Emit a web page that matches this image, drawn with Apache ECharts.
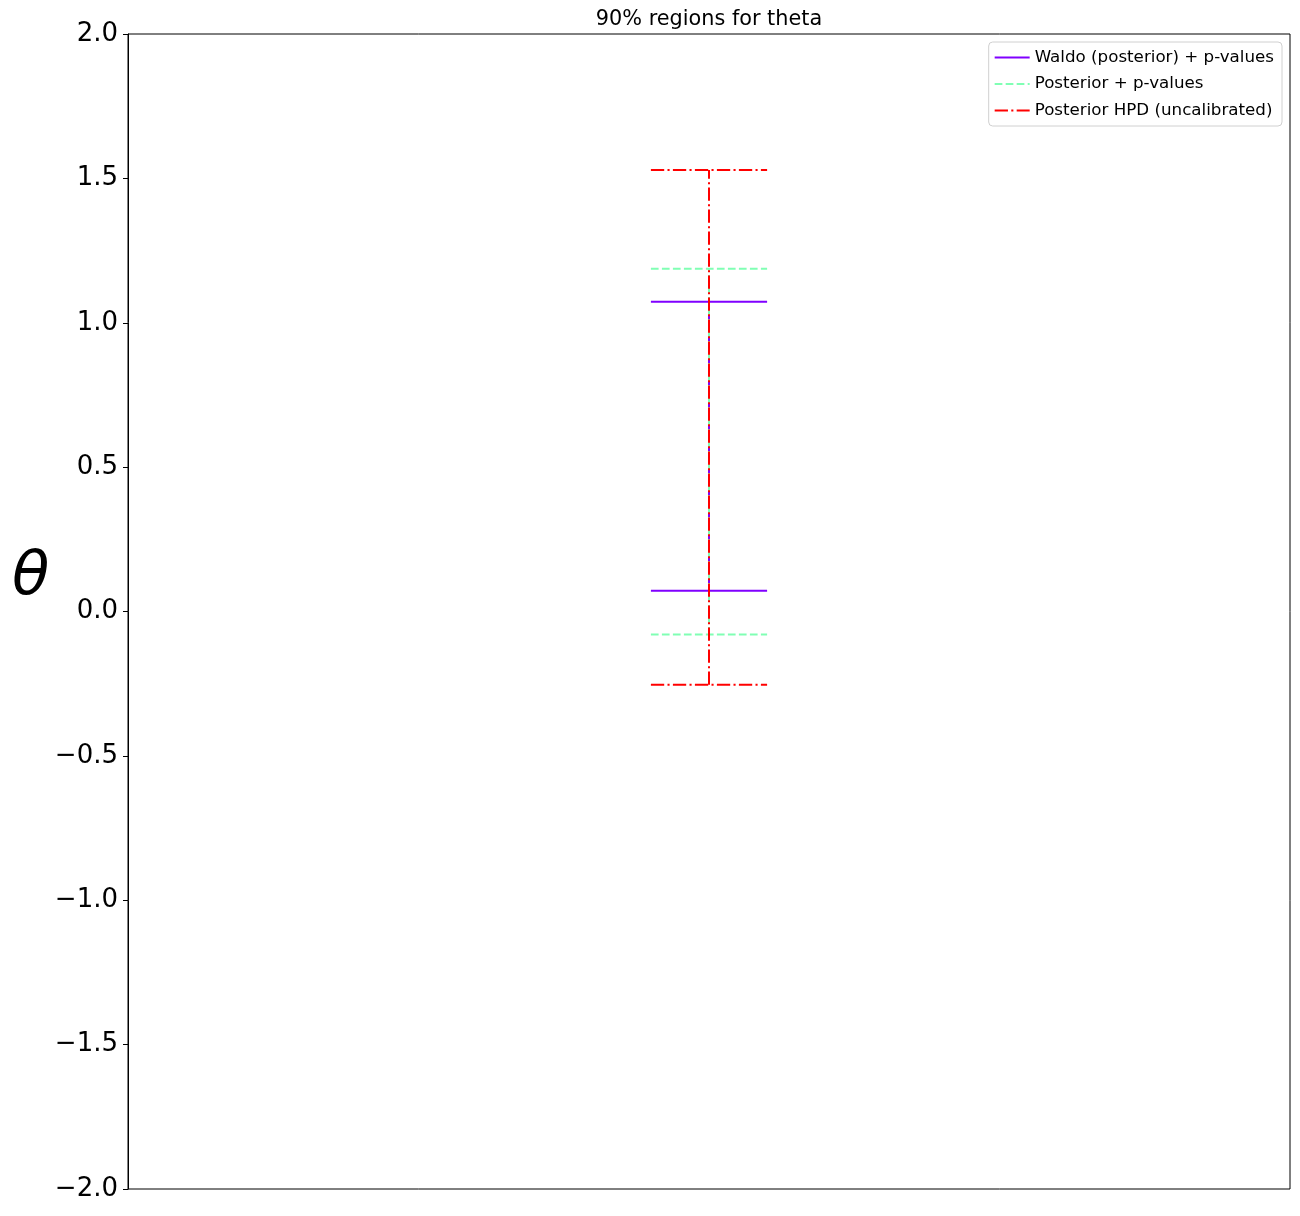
<!DOCTYPE html>
<html lang="en">
<head>
    <meta charset="UTF-8">
    <title>90% regions for theta</title>
    <script src="https://cdn.jsdelivr.net/npm/echarts@6/dist/echarts.min.js"></script>
    <style>
        html, body { margin: 0; padding: 0; background: #fff; }
        #main { width: 1300px; height: 1216px; }
    </style>
</head>
<body>
    <div id="main"></div>
    <script>
        // interval data
        var methods = ['Waldo (posterior) + p-values', 'Posterior + p-values', 'Posterior HPD (uncalibrated)'];
        var lower = [0.072, -0.080, -0.254];
        var upper = [1.073, 1.187, 1.529];
        var center = 0;
        var halfWidth = 0.1;
        var colors = ['#8000ff', '#80ffb4', '#ff0000'];
        var dashes = ['solid', [7.7, 3.3], [13.3, 3.3, 2.1, 3.3]];

        var chart = echarts.init(document.getElementById('main'));

        var series = methods.map(function (name, i) {
            return {
                name: name,
                type: 'line',
                symbol: 'none',
                silent: true,
                connectNulls: false,
                lineStyle: { color: colors[i], width: 2, type: dashes[i] },
                itemStyle: { color: colors[i] },
                data: [
                    [center - halfWidth, lower[i]], [center + halfWidth, lower[i]], ['-', '-'],
                    [center - halfWidth, upper[i]], [center + halfWidth, upper[i]], ['-', '-'],
                    [center, lower[i]], [center, upper[i]]
                ]
            };
        });

        chart.setOption({
            animation: false,
            backgroundColor: '#fff',
            legend: {
                orient: 'vertical',
                right: 18, top: 42,
                padding: [7, 8, 7, 5],
                itemWidth: 35, itemHeight: 14, itemGap: 9.5,
                backgroundColor: '#fff',
                borderColor: '#d0d0d0', borderWidth: 1, borderRadius: 4,
                itemStyle: { color: 'rgba(0,0,0,0)', borderWidth: 0 },
                textStyle: { fontFamily: 'DejaVu Sans', fontSize: 16.7, color: '#000' },
                data: methods
            },
            grid: {
                left: 128, right: 10, top: 34, bottom: 27,
                show: true, borderColor: '#000', borderWidth: 1,
                containLabel: false
            },
            xAxis: {
                type: 'value', min: -1, max: 1,
                show: false
            },
            yAxis: {
                type: 'value', min: -2, max: 2, interval: 0.5,
                axisLine: { show: true, onZero: false, lineStyle: { color: '#000' } },
                axisTick: { show: true, length: 5, lineStyle: { color: '#000' } },
                splitLine: { show: false },
                axisLabel: {
                    margin: 10,
                    fontFamily: 'DejaVu Sans', fontSize: 26, color: '#000',
                    formatter: function (v) {
                        return (v < 0 ? '\u2212' : '') + Math.abs(v).toFixed(1);
                    }
                }
            },
            graphic: [{
                type: 'text',
                x: 709, y: 9,
                style: {
                    text: '90% regions for theta',
                    font: '20.8px "DejaVu Sans"',
                    fill: '#000',
                    align: 'center',
                    verticalAlign: 'top'
                }
            }, {
                type: 'text',
                x: 12, y: 548,
                style: {
                    text: 'θ',
                    font: 'italic 61px "DejaVu Sans"',
                    fill: '#000',
                    verticalAlign: 'top'
                }
            }],
            series: series
        });
    </script>
</body>
</html>
